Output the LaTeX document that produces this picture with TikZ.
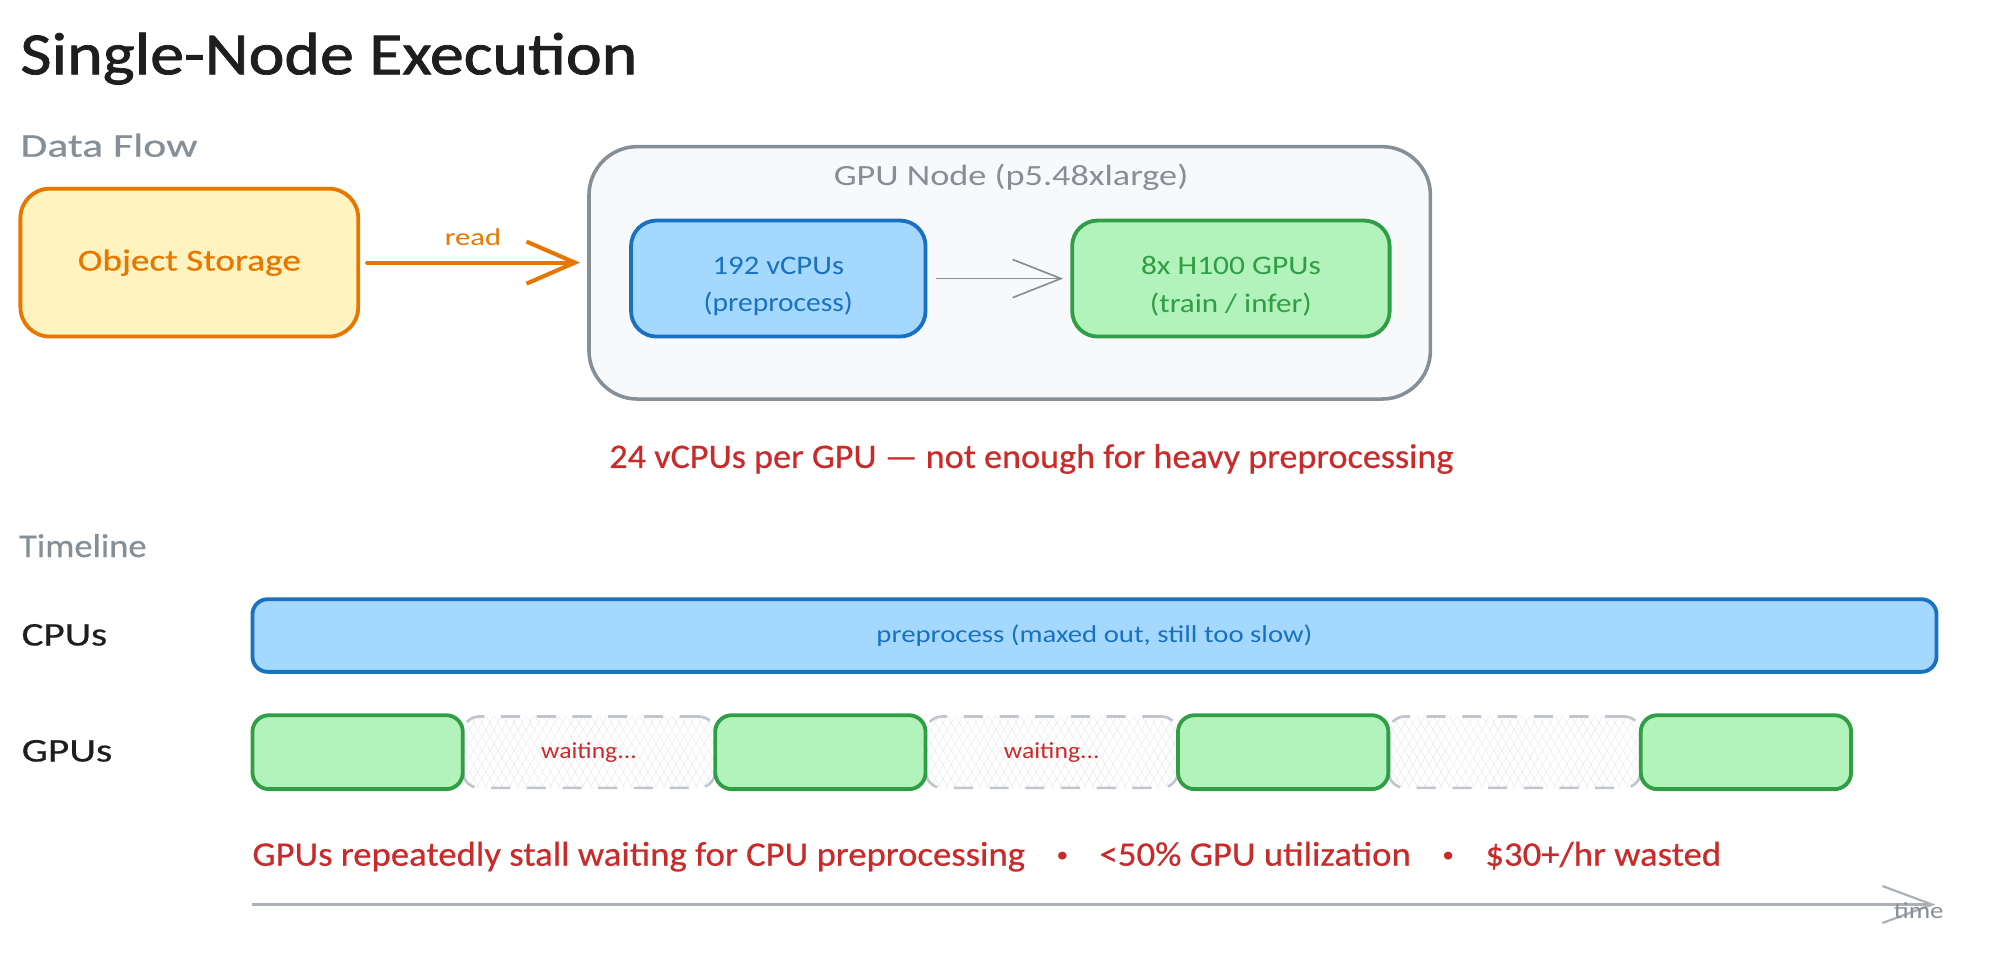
\documentclass[tikz,border=0pt]{standalone}
\usepackage{fontspec}
\usepackage{graphicx}
\setmainfont{Carlito}
\newfontfamily\heavyfont[FakeBold=1.2]{Carlito}
\newfontfamily\midfont[FakeBold=0.5]{Carlito}
\usetikzlibrary{arrows.meta,patterns.meta}
\definecolor{inkc}{HTML}{1E1E1E}
\definecolor{grayc}{HTML}{868E96}
\definecolor{grayf}{HTML}{F8F9FA}
\definecolor{orangec}{HTML}{E67700}
\definecolor{orangef}{HTML}{FFF3BF}
\definecolor{bluec}{HTML}{1971C2}
\definecolor{bluef}{HTML}{A5D8FF}
\definecolor{greenc}{HTML}{2F9E44}
\definecolor{greenf}{HTML}{B2F2BB}
\definecolor{redc}{HTML}{C92A2A}
\definecolor{axisc}{HTML}{ABB0B5}
\definecolor{dashc}{HTML}{C2C6CC}
\definecolor{hatchc}{HTML}{ECEEF0}
% #1 target width, #2 font size, #3 text
\newcommand{\tx}[3]{\resizebox{#1pt}{\height}{\fontsize{#2}{#2}\selectfont #3}}
\newcommand{\dotsep}{\hspace{.86em}\raisebox{.12em}{\scalebox{.62}{•}}\hspace{.86em}}
\tikzset{
  x=1pt,y=-1pt,
  lab/.style={inner sep=0pt,outer sep=0pt},
  cell/.style={draw,rounded corners=#1,line width=3pt,inner sep=0pt,outer sep=0pt,align=center},
  storagebox/.style={cell=23pt,draw=orangec,fill=orangef,text=orangec},
  nodebox/.style={cell=38pt,draw=grayc,fill=grayf,line width=2.8pt},
  cpubox/.style={cell=20pt,draw=bluec,fill=bluef,text=bluec},
  gpubox/.style={cell=20pt,draw=greenc,fill=greenf,text=greenc},
  cpubar/.style={cell=12pt,draw=bluec,fill=bluef,text=bluec},
  gpubar/.style={cell=13pt,draw=greenc,fill=greenf,minimum width=165pt,minimum height=58pt},
  waitbar/.style={rounded corners=13pt,draw=dashc,line width=2.1pt,inner sep=0pt,outer sep=0pt,
    dash pattern=on 15pt off 13pt,minimum width=198pt,minimum height=56pt,text=redc,
    preaction={pattern={Lines[angle=60,distance=5.5pt,line width=.6pt]},pattern color=hatchc},
    preaction={pattern={Lines[angle=-60,distance=5.5pt,line width=.6pt]},pattern color=hatchc}},
  readarrow/.style={draw=orangec,line width=3.2pt,line cap=round,-{Straight Barb[length=38pt,width=33pt,line width=3.2pt]}},
  flowarrow/.style={draw=grayc,line width=1.3pt,-{Straight Barb[length=38pt,width=30pt,line width=1.3pt]}},
  axisarrow/.style={draw=axisc,line width=1.7pt,-{Straight Barb[length=39pt,width=29pt,line width=1.7pt]}},
}
\begin{document}
\begin{tikzpicture}
\useasboundingbox (0,0) rectangle (1568,748.27);
% headings
\node[lab,text=inkc,anchor=west] (title) at (16,46) {\tx{484}{47}{\heavyfont Single-Node Execution}};
\node[lab,text=grayc,anchor=west] (dataflow) at (16,114) {\tx{139}{26}{\midfont Data Flow}};
\node[lab,text=grayc,anchor=west] (timeline) at (15,428) {\tx{100}{26}{\midfont Timeline}};
% data flow
\node[storagebox,minimum width=265pt,minimum height=116pt] (storage) at (148.5,206) {\tx{175}{24}{\midfont Object Storage}};
\node[nodebox,minimum width=660pt,minimum height=198pt] (gpunode) at (792,214) {};
\node[lab,text=grayc] (gpunodelabel) at (793,139) {\tx{278}{23}{GPU Node (p5.48xlarge)}};
\node[cpubox,minimum width=231pt,minimum height=91pt] (cpu) at (610.5,218.5)
  {\rule{0pt}{26pt}\tx{103}{21}{192 vCPUs}\\[13pt]\tx{117}{21}{(preprocess)}};
\node[gpubox,minimum width=249pt,minimum height=91pt] (gpu) at (965.5,218.5)
  {\rule{0pt}{26pt}\tx{141}{21}{8x H100 GPUs}\\[13pt]\tx{127}{21}{(train / infer)}};
\coordinate (readend) at (storage.east -| gpunode.west);
\draw[readarrow,shorten <=7pt,shorten >=7pt] (storage.east) -- (readend);
\node[lab,text=orangec] (readlabel) at (371,186) {\tx{44}{19}{read}};
\draw[flowarrow,shorten <=8pt,shorten >=7pt] (cpu) -- (gpu);
\node[lab,text=redc] (note1) at (809,360) {\tx{662}{27}{\midfont 24 vCPUs per GPU — not enough for heavy preprocessing}};
% timeline rows
\node[lab,text=inkc,anchor=west] (cpulabel) at (17,498) {\tx{67}{26}{\midfont CPUs}};
\node[lab,text=inkc,anchor=west] (gpulabel) at (17,589) {\tx{71}{26}{\midfont GPUs}};
\node[cpubar,minimum width=1321pt,minimum height=57pt] (cpubar) at (858.5,498.5) {\tx{342}{19}{preprocess (maxed out, still too slow)}};
\node[waitbar] (wait1) at (462,590) {\tx{75}{18}{waiting...}};
\node[waitbar] (wait2) at (825,590) {\tx{75}{18}{waiting...}};
\node[waitbar] (wait3) at (1188,590) {};
\node[gpubar] (g1) at (280.5,590) {};
\node[gpubar] (g2) at (643.5,590) {};
\node[gpubar] (g3) at (1006.5,590) {};
\node[gpubar] (g4) at (1369.5,590) {};
\node[lab,text=redc,anchor=west] (note2) at (198,672) {\tx{1152}{27}{\midfont GPUs repeatedly stall waiting for CPU preprocessing\dotsep<50\% GPU utilization\dotsep\$30+/hr wasted}};
% axis
\coordinate (axisstart) at (198,709.5);
\coordinate (axisend) at (1518,709.5);
\draw[axisarrow] (axisstart) -- (axisend);
\node[lab,text=grayc] (timelabel) at (1505,714) {\tx{39}{18}{time}};
\end{tikzpicture}
\end{document}
